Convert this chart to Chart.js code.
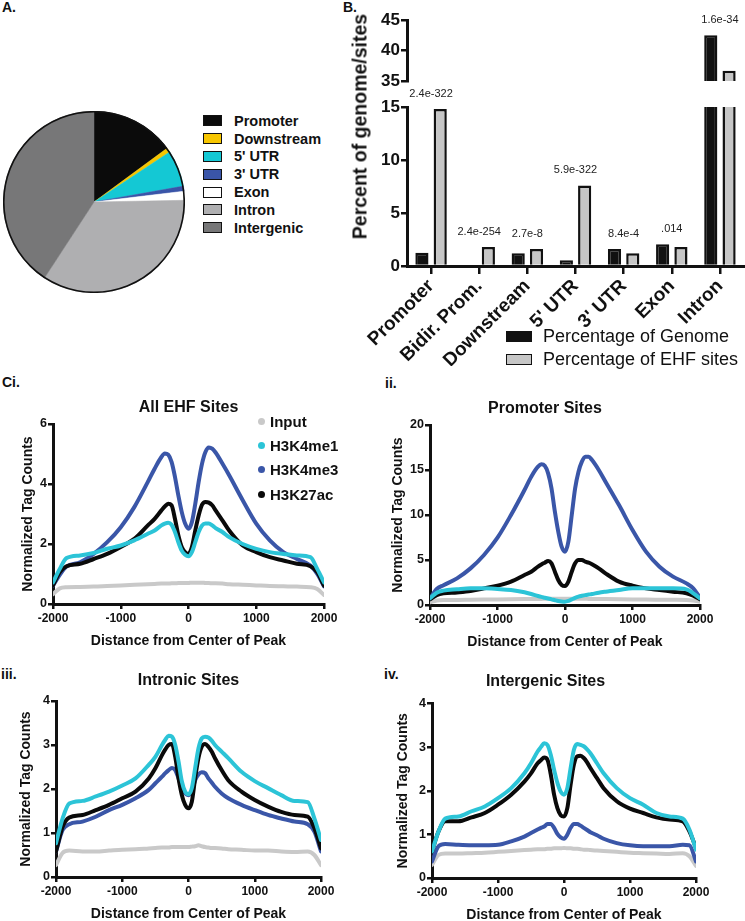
<!DOCTYPE html>
<html><head><meta charset="utf-8">
<script src="https://cdn.jsdelivr.net/npm/chart.js@4.4.0/dist/chart.umd.min.js"></script>
<style>
html,body{margin:0;padding:0;background:#fff;}
body{width:745px;height:921px;position:relative;overflow:hidden;font-family:"Liberation Sans",Arial,sans-serif;color:#111;}
canvas{position:absolute;}
.plab{position:absolute;font-weight:bold;font-size:14px;line-height:1;}
.legA{position:absolute;left:203px;top:112px;}
.legA .row{height:17.8px;display:flex;align-items:center;font-weight:bold;font-size:14.5px;white-space:nowrap;}
.legA .box{width:17px;height:9px;border:1.5px solid #111;margin-right:12px;}
.legB{position:absolute;left:506px;top:325px;}
.legB .row{height:23px;display:flex;align-items:center;font-size:18px;white-space:nowrap;}
.legB .box{width:24px;height:9px;border:1.5px solid #111;margin-right:11px;}
.legC{position:absolute;left:258px;top:409px;}
.legC .row{height:24.4px;display:flex;align-items:center;font-weight:bold;font-size:15px;white-space:nowrap;}
.legC .dot{width:7px;height:7px;border-radius:50%;margin-right:5px;}
.ytitleB{position:absolute;left:240px;top:115px;width:240px;height:23px;line-height:23px;text-align:center;font-weight:bold;font-size:19.5px;transform:rotate(-90deg);transform-origin:50% 50%;white-space:nowrap;}
</style></head>
<body>
<div class="plab" style="left:2px;top:0px;">A.</div>
<div class="plab" style="left:343px;top:0px;">B.</div>
<div class="plab" style="left:2px;top:375px;">Ci.</div>
<div class="plab" style="left:385px;top:376px;">ii.</div>
<div class="plab" style="left:1px;top:667px;">iii.</div>
<div class="plab" style="left:384px;top:667px;">iv.</div>

<canvas id="pie" width="182" height="182" style="left:3px;top:111px;"></canvas>
<div class="legA" id="legA"></div>

<canvas id="barTop" width="405" height="93" style="left:340px;top:0px;"></canvas>
<canvas id="barBot" width="405" height="281" style="left:340px;top:85px;"></canvas>
<div class="ytitleB">Percent of genome/sites</div>
<div class="legB" id="legB"></div>

<canvas id="c1" width="340" height="256" style="left:0px;top:394px;"></canvas>
<canvas id="c2" width="344" height="256" style="left:372px;top:395px;"></canvas>
<canvas id="c3" width="337" height="256" style="left:0px;top:667px;"></canvas>
<canvas id="c4" width="340" height="256" style="left:372px;top:668px;"></canvas>
<div class="legC" id="legC"></div>

<script>
// ---------- DATA ----------
// Panel A: genomic distribution of EHF sites (percent)
const pieLabels = ["Promoter", "Downstream", "5' UTR", "3' UTR", "Exon", "Intron", "Intergenic"];
const pieValues = [14.9, 0.8, 6.5, 0.9, 1.6, 34.5, 40.8];
const pieColors = ["#0b0b0b", "#f7c600", "#14c8d4", "#3a55a8", "#ffffff", "#afafb1", "#777778"];

// Panel B: percentage of genome vs percentage of EHF sites
const regionCats = ["Promoter", "Bidir. Prom.", "Downstream", "5' UTR", "3' UTR", "Exon", "Intron"];
const genomePct = [1.25, 0, 1.2, 0.55, 1.6, 2.05, 42.5];
const sitesPct = [14.8, 1.8, 1.6, 7.6, 1.2, 1.8, 36.7];
const pValues = ["2.4e-322", "2.4e-254", "2.7e-8", "5.9e-322", "8.4e-4", ".014", "1.6e-34"];
const barSeriesNames = ["Percentage of Genome", "Percentage of EHF sites"];

// Panel C: distance from center of peak (bp)
const distance = [-2000,-1900,-1800,-1600,-1400,-1200,-1000,-800,-600,-500,-400,-350,-300,-250,-200,-150,-100,-50,0,50,100,150,200,250,300,350,400,500,600,800,1000,1200,1400,1600,1800,1900,2000];
const markNames = ["Input", "H3K4me1", "H3K4me3", "H3K27ac"];

// Ci. All EHF sites
const allInput = [0.33,0.52,0.56,0.57,0.58,0.6,0.62,0.64,0.66,0.67,0.68,0.68,0.68,0.69,0.69,0.7,0.7,0.7,0.7,0.71,0.71,0.71,0.71,0.7,0.7,0.69,0.69,0.68,0.66,0.64,0.62,0.6,0.59,0.58,0.56,0.5,0.3];
const allMe1 = [0.72,1.17,1.53,1.62,1.7,1.84,1.95,2.12,2.34,2.45,2.62,2.68,2.71,2.64,2.4,2.06,1.78,1.64,1.59,1.73,2.06,2.4,2.62,2.68,2.68,2.62,2.53,2.4,2.23,2.0,1.84,1.73,1.67,1.62,1.56,1.17,0.72];
const allMe3 = [0.61,0.97,1.25,1.39,1.67,2.06,2.56,3.23,4.07,4.51,4.9,5.02,4.98,4.74,4.24,3.62,3.07,2.68,2.51,2.73,3.34,4.07,4.68,5.07,5.22,5.18,5.05,4.68,4.29,3.46,2.68,2.12,1.73,1.5,1.28,1.0,0.59];
const allAc = [0.62,1.06,1.26,1.34,1.5,1.67,1.9,2.17,2.62,2.84,3.12,3.25,3.34,3.29,2.84,2.29,1.9,1.73,1.67,1.9,2.45,2.95,3.31,3.4,3.38,3.29,3.12,2.79,2.45,1.95,1.73,1.56,1.45,1.34,1.26,1.06,0.61];

// ii. Promoter sites
const promInput = [0.3,0.5,0.55,0.56,0.58,0.6,0.62,0.64,0.66,0.67,0.68,0.68,0.69,0.69,0.69,0.7,0.7,0.7,0.7,0.7,0.7,0.7,0.69,0.69,0.69,0.68,0.68,0.67,0.66,0.64,0.62,0.6,0.59,0.58,0.56,0.5,0.35];
const promMe1 = [0.74,1.37,1.6,1.74,1.85,1.85,1.78,1.67,1.41,1.22,1.0,0.9,0.81,0.72,0.63,0.53,0.44,0.39,0.37,0.45,0.63,0.8,0.93,1.02,1.1,1.16,1.22,1.37,1.48,1.67,1.85,1.85,1.85,1.85,1.74,1.3,0.74];
const promMe3 = [0.7,1.78,2.2,2.96,4.07,5.56,7.48,10.0,12.78,14.26,15.37,15.63,15.48,14.63,12.96,10.37,8.15,6.48,5.93,7.04,10.0,12.96,14.81,15.93,16.48,16.48,16.1,15.0,13.7,11.1,8.33,5.93,4.26,3.15,2.4,1.85,0.81];
const promAc = [0.63,1.1,1.3,1.4,1.55,1.85,2.15,2.6,3.33,3.7,4.26,4.5,4.7,4.89,4.63,3.7,2.78,2.22,2.1,2.6,3.7,4.63,5.0,5.0,4.81,4.7,4.52,4.07,3.52,2.6,2.15,1.85,1.67,1.48,1.3,1.04,0.63];

// iii. Intronic sites
const intrInput = [0.27,0.55,0.6,0.58,0.58,0.6,0.62,0.63,0.65,0.66,0.67,0.67,0.67,0.68,0.68,0.68,0.68,0.68,0.68,0.69,0.7,0.72,0.7,0.68,0.67,0.66,0.66,0.65,0.63,0.62,0.6,0.6,0.58,0.57,0.58,0.5,0.27];
const intrMe1 = [0.77,1.33,1.67,1.73,1.83,1.94,2.08,2.24,2.55,2.73,3.0,3.12,3.21,3.19,3.0,2.62,2.17,1.94,1.88,2.02,2.47,2.92,3.15,3.19,3.17,3.1,3.0,2.85,2.7,2.39,2.18,2.02,1.86,1.73,1.7,1.33,0.84];
const intrMe3 = [0.58,1.07,1.2,1.26,1.37,1.52,1.64,1.79,1.98,2.13,2.28,2.36,2.43,2.48,2.43,2.24,2.02,1.9,1.86,1.95,2.2,2.33,2.38,2.36,2.24,2.15,2.05,1.9,1.79,1.64,1.52,1.41,1.33,1.26,1.2,1.03,0.58];
const intrAc = [0.58,1.14,1.35,1.41,1.52,1.64,1.79,1.94,2.24,2.47,2.77,2.9,3.0,3.02,2.73,2.24,1.86,1.64,1.56,1.71,2.24,2.7,2.96,3.02,2.96,2.85,2.7,2.43,2.2,1.94,1.75,1.6,1.48,1.41,1.37,1.11,0.65];

// iv. Intergenic sites
const interInput = [0.3,0.53,0.56,0.56,0.57,0.58,0.6,0.62,0.64,0.65,0.66,0.66,0.66,0.67,0.67,0.68,0.68,0.68,0.69,0.68,0.68,0.67,0.67,0.66,0.65,0.65,0.64,0.63,0.62,0.6,0.58,0.57,0.56,0.55,0.57,0.5,0.28];
const interMe1 = [0.61,1.07,1.36,1.41,1.53,1.64,1.83,2.06,2.4,2.63,2.9,3.0,3.09,3.05,2.82,2.48,2.18,1.98,1.91,2.06,2.52,2.94,3.07,3.05,3.02,2.95,2.86,2.63,2.4,2.06,1.83,1.68,1.49,1.41,1.36,1.11,0.65];
const interMe3 = [0.38,0.73,0.78,0.76,0.75,0.75,0.76,0.84,0.95,1.03,1.11,1.15,1.18,1.24,1.24,1.15,1.01,0.93,0.9,0.99,1.15,1.24,1.24,1.2,1.15,1.1,1.05,0.98,0.9,0.8,0.75,0.73,0.73,0.73,0.76,0.75,0.38];
const interAc = [0.61,1.07,1.3,1.3,1.39,1.49,1.68,1.91,2.21,2.4,2.63,2.7,2.76,2.71,2.37,1.91,1.6,1.44,1.41,1.6,2.14,2.6,2.79,2.8,2.75,2.65,2.52,2.29,2.06,1.76,1.59,1.49,1.39,1.34,1.3,1.07,0.69];

// ---------- STYLE ----------
const FONT = '"Liberation Sans", Arial, sans-serif';
const INK = '#111111';
const markColors = {"Input": "#c9c9c9", "H3K4me1": "#2cc4d7", "H3K4me3": "#3a56a8", "H3K27ac": "#0a0a0a"};
Chart.defaults.font.family = FONT;
Chart.defaults.color = INK;

// ---------- A: pie ----------
const pieOutline = {
  id: 'pieOutline',
  afterDatasetsDraw(chart) {
    const a = chart.getDatasetMeta(0).data[0];
    if (!a) return;
    const ctx = chart.ctx;
    ctx.save();
    ctx.beginPath();
    ctx.arc(a.x, a.y, a.outerRadius - 0.5, 0, Math.PI * 2);
    ctx.lineWidth = 1.6;
    ctx.strokeStyle = INK;
    ctx.stroke();
    ctx.restore();
  }
};
new Chart(document.getElementById('pie'), {
  type: 'pie',
  data: { labels: pieLabels, datasets: [{ data: pieValues, backgroundColor: pieColors, borderColor: pieColors, borderWidth: 0.5, hoverOffset: 0 }] },
  options: { responsive: false, animation: false, events: [], layout: { padding: 0 },
    plugins: { legend: { display: false }, tooltip: { enabled: false } } },
  plugins: [pieOutline]
});
const legA = document.getElementById('legA');
pieLabels.forEach((l, i) => {
  const r = document.createElement('div'); r.className = 'row';
  const b = document.createElement('div'); b.className = 'box'; b.style.background = pieColors[i];
  const t = document.createElement('span'); t.textContent = l;
  r.appendChild(b); r.appendChild(t); legA.appendChild(r);
});

// ---------- B: broken-axis bar chart ----------
const pvalPlugin = {
  id: 'pvals',
  afterDatasetsDraw(chart) {
    const { ctx, scales: { x, y } } = chart;
    ctx.save();
    ctx.font = '11px ' + FONT;
    ctx.fillStyle = '#222';
    ctx.textAlign = 'center';
    ctx.textBaseline = 'middle';
    pValues.forEach((t, i) => {
      const m = Math.max(genomePct[i], sitesPct[i]);
      if (m < y.min || m > y.max) return;
      ctx.fillText(t, x.getPixelForValue(i), y.getPixelForValue(m) - 15);
    });
    ctx.restore();
  }
};
const barColors = ['#111111', '#c6c6c6'];
function barDatasets() {
  return [genomePct, sitesPct].map((d, k) => ({
    label: barSeriesNames[k], data: d, backgroundColor: barColors[k], borderColor: INK,
    borderWidth: 2.5, clip: 0, categoryPercentage: 0.76, barPercentage: 0.72
  }));
}
const axisGrid = (len) => ({ display: true, drawOnChartArea: false, drawTicks: true, tickLength: len, color: INK, lineWidth: 2.5, offset: false });
const axisBorder = { display: true, color: INK, width: 3 };

new Chart(document.getElementById('barTop'), {
  type: 'bar',
  data: { labels: regionCats, datasets: barDatasets() },
  options: {
    responsive: false, animation: false, events: [],
    layout: { padding: { left: 30, right: 1, top: 20, bottom: 12 } },
    plugins: { legend: { display: false }, tooltip: { enabled: false } },
    scales: {
      x: { display: false, offset: true },
      y: { min: 35, max: 45, ticks: { stepSize: 5, font: { size: 17, weight: 'bold' }, color: INK, padding: 1 },
        grid: axisGrid(6), border: axisBorder, afterFit: s => { s.width = 37; } }
    }
  },
  plugins: [pvalPlugin]
});
new Chart(document.getElementById('barBot'), {
  type: 'bar',
  data: { labels: regionCats, datasets: barDatasets() },
  options: {
    responsive: false, animation: false, events: [],
    layout: { padding: { left: 30, right: 1, top: 22, bottom: 0 } },
    plugins: { legend: { display: false }, tooltip: { enabled: false } },
    scales: {
      x: { ticks: { font: { size: 19, weight: 'bold' }, color: INK, maxRotation: 45, minRotation: 45, autoSkip: false, padding: 1 },
        grid: axisGrid(8), border: axisBorder, afterFit: s => { s.height = 100; } },
      y: { min: 0, max: 15, ticks: { stepSize: 5, font: { size: 17, weight: 'bold' }, color: INK, padding: 1 },
        grid: axisGrid(6), border: axisBorder, afterFit: s => { s.width = 37; } }
    }
  },
  plugins: [pvalPlugin]
});
const legB = document.getElementById('legB');
barSeriesNames.forEach((l, i) => {
  const r = document.createElement('div'); r.className = 'row';
  const b = document.createElement('div'); b.className = 'box'; b.style.background = barColors[i];
  const t = document.createElement('span'); t.textContent = l;
  r.appendChild(b); r.appendChild(t); legB.appendChild(r);
});

// ---------- C: profile line charts ----------
function profileChart(id, title, series, cfg) {
  const order = ["H3K4me1", "H3K27ac", "H3K4me3", "Input"]; // first drawn on top
  const datasets = order.map(name => ({
    label: name, data: series[name], borderColor: markColors[name], backgroundColor: markColors[name],
    borderWidth: 4, pointRadius: 0, cubicInterpolationMode: 'monotone', borderJoinStyle: 'round', borderCapStyle: 'round', fill: false
  }));
  return new Chart(document.getElementById(id), {
    type: 'line',
    data: { labels: distance, datasets },
    options: {
      responsive: false, animation: false, events: [], parsing: true,
      layout: { padding: { left: cfg.padL, right: 16, top: 0, bottom: 0 } },
      plugins: {
        legend: { display: false }, tooltip: { enabled: false },
        title: { display: true, text: title, fullSize: cfg.full, color: INK, font: { size: 16, weight: 'bold' }, padding: { top: 4, bottom: cfg.padB } }
      },
      scales: {
        x: { type: 'linear', min: -2000, max: 2000,
          ticks: { stepSize: 1000, autoSkip: false, maxRotation: 0, font: { size: 12, weight: 'bold' }, color: INK, padding: 2, callback: v => String(v) },
          grid: axisGrid(5), border: axisBorder,
          title: { display: true, text: 'Distance from Center of Peak', color: INK, font: { size: 14, weight: 'bold' }, padding: { top: 0, bottom: 0 } },
          afterFit: s => { s.height = 46; } },
        y: { min: 0, max: cfg.yMax,
          ticks: { stepSize: cfg.yStep, font: { size: 12.5, weight: 'bold' }, color: INK, padding: 1 },
          grid: axisGrid(5), border: axisBorder,
          title: { display: true, text: 'Normalized Tag Counts', color: INK, font: { size: 14, weight: 'bold' }, padding: { top: 0, bottom: 0 } },
          afterFit: s => { s.width = cfg.yW; } }
      }
    }
  });
}
function toXY(arr) { return arr.map((v, i) => ({ x: distance[i], y: v })); }
function bundle(inp, me1, me3, ac) {
  return { "Input": toXY(inp), "H3K4me1": toXY(me1), "H3K4me3": toXY(me3), "H3K27ac": toXY(ac) };
}
profileChart('c1', 'All EHF Sites', bundle(allInput, allMe1, allMe3, allAc), { padL: 20, yW: 33, full: false, padB: 6.8, yMax: 6, yStep: 2 });
profileChart('c2', 'Promoter Sites', bundle(promInput, promMe1, promMe3, promAc), { padL: 18, yW: 40, full: true, padB: 6.8, yMax: 20, yStep: 5 });
profileChart('c3', 'Intronic Sites', bundle(intrInput, intrMe1, intrMe3, intrAc), { padL: 18, yW: 38, full: false, padB: 10.8, yMax: 4, yStep: 1 });
profileChart('c4', 'Intergenic Sites', bundle(interInput, interMe1, interMe3, interAc), { padL: 23, yW: 37, full: true, padB: 12.3, yMax: 4, yStep: 1 });

const legC = document.getElementById('legC');
markNames.forEach(n => {
  const r = document.createElement('div'); r.className = 'row';
  const d = document.createElement('div'); d.className = 'dot'; d.style.background = markColors[n];
  const t = document.createElement('span'); t.textContent = n;
  r.appendChild(d); r.appendChild(t); legC.appendChild(r);
});
</script>
</body></html>
